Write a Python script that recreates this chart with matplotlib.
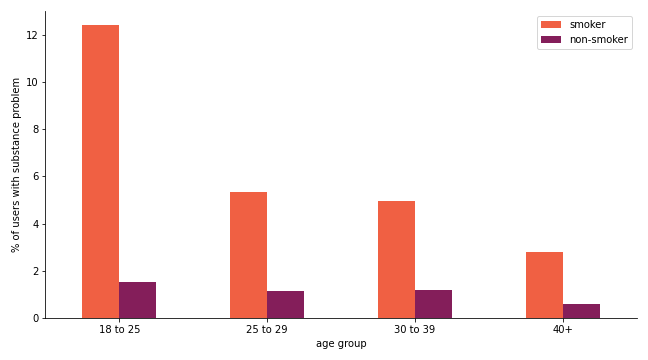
import matplotlib
matplotlib.use("Agg")
import matplotlib.pyplot as plt
import numpy as np

categories = ["18 to 25", "25 to 29", "30 to 39", "40+"]
smoker = [12.42, 5.34, 4.96, 2.80]
non_smoker = [1.53, 1.14, 1.19, 0.59]

fig, ax = plt.subplots(figsize=(9, 5), dpi=72)
fig.subplots_adjust(left=0.07, right=0.983, top=0.969, bottom=0.117)
x = np.arange(len(categories))
w = 0.25
ax.bar(x - w/2, smoker, width=w, color="#F06043", label="smoker")
ax.bar(x + w/2, non_smoker, width=w, color="#841E5A", label="non-smoker")
ax.set_xticks(x)
ax.set_xticklabels(categories)
ax.set_xlim(-0.5, 3.5)
ax.set_ylim(0, 13.0)
ax.set_yticks([0, 2, 4, 6, 8, 10, 12])
ax.set_xlabel("age group")
ax.set_ylabel("% of users with substance problem")
ax.spines["top"].set_visible(False)
ax.spines["right"].set_visible(False)
ax.legend(loc="upper right")
fig.savefig("out.png")
